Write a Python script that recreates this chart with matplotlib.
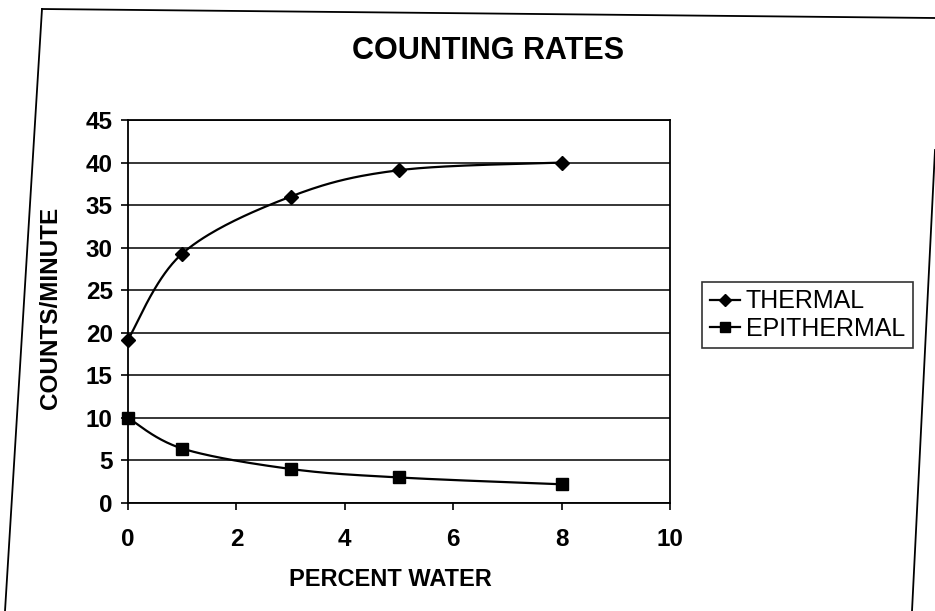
import numpy as np
import matplotlib
matplotlib.use("Agg")
import matplotlib.pyplot as plt
from matplotlib.lines import Line2D

# Data
water = [0, 1, 3, 5, 8]
thermal = [19.2, 29.3, 36.0, 39.1, 40.0]
epithermal = [10.0, 6.4, 4.0, 3.0, 2.2]

title = "COUNTING RATES"
xlabel = "PERCENT WATER"
ylabel = "COUNTS/MINUTE"
series_names = ["THERMAL", "EPITHERMAL"]
xticks = [0, 2, 4, 6, 8, 10]
yticks = [0, 5, 10, 15, 20, 25, 30, 35, 40, 45]

plt.rcParams['font.family'] = ['Liberation Sans', 'DejaVu Sans']

W, H = 935, 611


def smooth(xs, ys, n=40):
    """Excel-style smoothed line (Catmull-Rom Bezier) through the points."""
    x = np.asarray(xs, float)
    y = np.asarray(ys, float)
    px = np.concatenate([[x[0]], x, [x[-1]]])
    py = np.concatenate([[y[0]], y, [y[-1]]])
    outx, outy = [], []
    t = np.linspace(0, 1, n)
    for i in range(1, len(px) - 2):
        p0 = np.array([px[i], py[i]])
        p3 = np.array([px[i + 1], py[i + 1]])
        c1 = p0 + (np.array([px[i + 1], py[i + 1]]) - np.array([px[i - 1], py[i - 1]])) / 6
        c2 = p3 - (np.array([px[i + 2], py[i + 2]]) - np.array([px[i], py[i]])) / 6
        b = ((1 - t) ** 3)[:, None] * p0 + (3 * (1 - t) ** 2 * t)[:, None] * c1 \
            + (3 * (1 - t) * t ** 2)[:, None] * c2 + (t ** 3)[:, None] * p3
        outx.extend(b[:, 0]); outy.extend(b[:, 1])
    return outx, outy


fig = plt.figure(figsize=(W / 100, H / 100), dpi=100)
L, R, T, B = 128, 670, 120, 503
ax = fig.add_axes([L / W, 1 - B / H, (R - L) / W, (B - T) / H])

ax.set_xlim(0, 10)
ax.set_ylim(0, 45)
ax.set_xticks(xticks)
ax.set_yticks(yticks)
ax.set_xticklabels([str(v) for v in xticks], fontsize=17.5, fontweight='bold')
ax.set_yticklabels([str(v) for v in yticks], fontsize=17.5, fontweight='bold')
ax.tick_params(axis='both', direction='out', length=5, width=1.2, colors='black')
ax.tick_params(axis='x', pad=13)
ax.tick_params(axis='y', pad=6)
ax.yaxis.grid(True, color='black', linewidth=1.1)
ax.set_axisbelow(True)
for s in ax.spines.values():
    s.set_color('black')
    s.set_linewidth(1.3)

sx, sy = smooth(water, thermal)
ax.plot(sx, sy, color='black', lw=1.6)
ax.plot(water, thermal, linestyle='none', marker='D', markersize=7.5,
        color='black', clip_on=False)
sx, sy = smooth(water, epithermal)
ax.plot(sx, sy, color='black', lw=1.6)
ax.plot(water, epithermal, linestyle='none', marker='s', markersize=9,
        color='black', clip_on=False)

ax.set_xlabel(xlabel, fontsize=17, fontweight='bold')
ax.xaxis.set_label_coords((390 - L) / (R - L), (B - 580) / (B - T))
ax.xaxis.label.set_verticalalignment('center')
ax.set_ylabel(ylabel, fontsize=17.5, fontweight='bold')
ax.yaxis.set_label_coords((51 - L) / (R - L), (B - 308) / (B - T))
ax.yaxis.label.set_verticalalignment('center')

fig.text(488 / W, 1 - 51 / H, title, fontsize=22, fontweight='bold',
         ha='center', va='center')

handles = [Line2D([], [], color='black', lw=1.6, marker='D', markersize=6),
           Line2D([], [], color='black', lw=1.6, marker='s', markersize=7)]
leg = fig.legend(handles, series_names, loc='upper left',
                 bbox_to_anchor=(702 / W, 1 - 282 / H),
                 prop={'size': 18}, frameon=True,
                 fancybox=False, handlelength=1.2, handletextpad=0.25,
                 borderpad=0.3, labelspacing=0.12, borderaxespad=0)
leg.get_frame().set_edgecolor('black')
leg.get_frame().set_linewidth(1.2)

# outer chart frame (scanned page, slightly skewed)
frame_lines = [((42, 9), (935, 18)), ((42, 9), (5, 611)), ((935, 150), (912, 611))]
for (x0, y0), (x1, y1) in frame_lines:
    fig.add_artist(Line2D([x0 / W, x1 / W], [1 - y0 / H, 1 - y1 / H],
                          transform=fig.transFigure, color='black', lw=1.3))

fig.savefig("out.png", dpi=100)
